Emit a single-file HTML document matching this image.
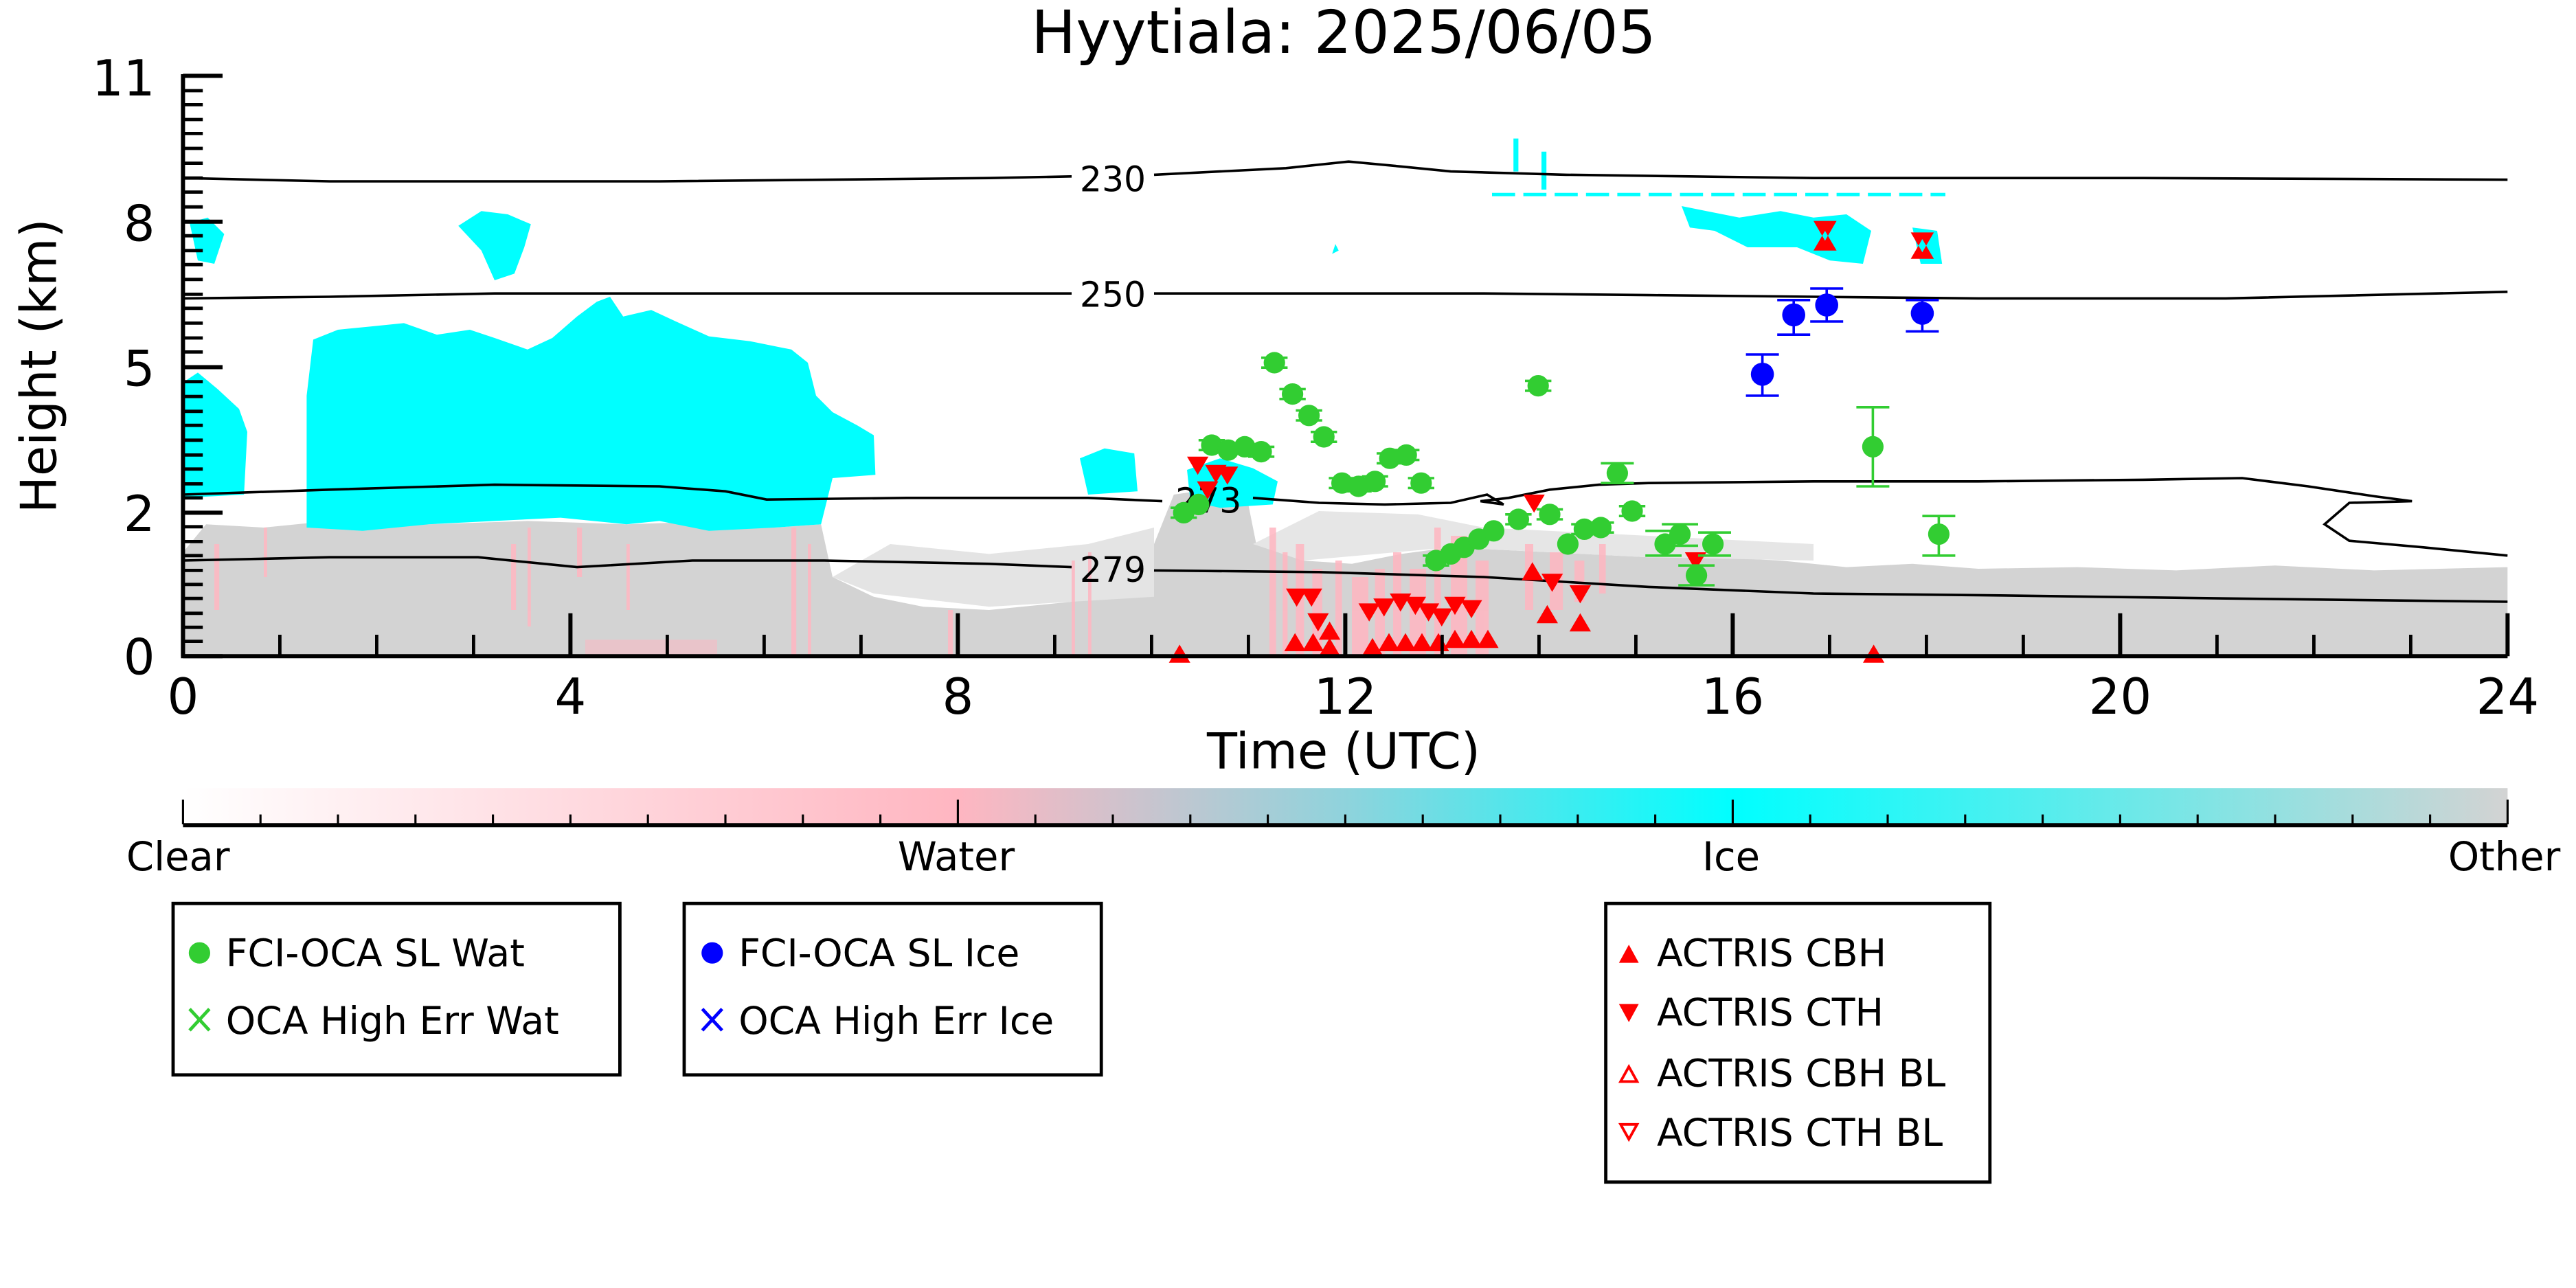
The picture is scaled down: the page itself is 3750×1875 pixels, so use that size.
<!DOCTYPE html>
<html><head><meta charset="utf-8"><style>
html,body{margin:0;padding:0;background:#fff}
svg{display:block}
text{font-family:"DejaVu Sans","Liberation Sans",sans-serif;fill:#000}
</style></head><body>
<svg xmlns="http://www.w3.org/2000/svg" width="3750" height="1875" viewBox="0 0 1562.5 781.25">
<defs>
<linearGradient id="cb" x1="0" x2="1" y1="0" y2="0">
<stop offset="0" stop-color="#ffffff"/>
<stop offset="0.333" stop-color="#ffb6c1"/>
<stop offset="0.5" stop-color="#8fd3dc"/>
<stop offset="0.667" stop-color="#00ffff"/>
<stop offset="1" stop-color="#d3d3d3"/>
</linearGradient>
<clipPath id="pa"><rect x="111" y="46" width="1410" height="352"/></clipPath>
</defs>
<rect width="1562.5" height="781.25" fill="#fff"/>
<text x="815" y="32" font-size="36" text-anchor="middle">Hyytiala: 2025/06/05</text>

<g clip-path="url(#pa)">
<path fill="#d3d3d3" d="M111,398 L111,335 L125,318 L160,320 L200,316 L260,318 L320,316 L380,318 L440,316 L470,320 L498,318 L505,350 L530,362 L560,368 L600,370 L640,366 L680,362 L700,330 L712,300 L740,296 L756,300 L762,330 L790,340 L820,342 L850,336 L880,332 L920,334 L960,336 L1000,338 L1040,338 L1080,340 L1120,344 L1160,342 L1200,345 L1260,344 L1320,346 L1380,343 L1440,346 L1521,344 L1521,398 Z"/>
<path fill="#e4e4e4" d="M505,350 L540,330 L600,336 L660,330 L700,320 L700,362 L600,368 L530,360 Z"/>
<path fill="#e6e6e6" d="M760,330 L800,310 L860,312 L900,320 L1000,325 L1100,330 L1100,340 L1000,338 L880,332 L790,340 Z"/>
<g fill="#ffb6c1" opacity="0.85">
<rect x="770" y="320" width="4" height="78"/><rect x="778" y="335" width="3" height="63"/>
<rect x="786" y="330" width="5" height="68"/><rect x="796" y="345" width="6" height="53"/>
<rect x="810" y="340" width="4" height="58"/><rect x="820" y="350" width="10" height="48"/>
<rect x="834" y="345" width="6" height="53"/><rect x="845" y="335" width="5" height="63"/>
<rect x="855" y="345" width="10" height="53"/><rect x="870" y="320" width="4" height="78"/>
<rect x="880" y="325" width="10" height="73"/><rect x="895" y="340" width="8" height="58"/>
<rect x="925" y="330" width="5" height="40"/><rect x="940" y="335" width="8" height="35"/>
<rect x="955" y="340" width="6" height="25"/><rect x="970" y="330" width="4" height="30"/>
<rect x="650" y="340" width="2" height="58"/><rect x="660" y="335" width="2" height="63"/>
<rect x="575" y="370" width="3" height="28"/>
<rect x="310" y="330" width="3" height="40"/><rect x="320" y="320" width="2" height="60"/>
<rect x="350" y="320" width="3" height="30"/><rect x="380" y="330" width="2" height="40"/>
<rect x="130" y="330" width="3" height="40"/><rect x="160" y="320" width="2" height="30"/>
<rect x="230" y="240" width="3" height="30"/><rect x="250" y="260" width="2" height="30"/>
<rect x="480" y="320" width="3" height="78"/><rect x="490" y="330" width="2" height="68"/>
</g>
<rect x="355" y="388" width="80" height="10" fill="#ffb6c1" opacity="0.5"/>
<g fill="#00ffff">
<path d="M186,320 L186,240 L190,206 L205,200 L225,198 L245,196 L265,203 L285,200 L300,205 L320,212 L335,205 L350,192 L362,183 L370,180 L378,192 L395,188 L410,195 L430,204 L455,207 L480,212 L490,220 L495,240 L505,250 L520,258 L530,264 L531,288 L505,290 L498,318 L470,320 L430,322 L400,316 L380,318 L340,314 L300,316 L260,318 L220,322 Z"/>
<path d="M111,232 L120,226 L132,236 L145,248 L150,262 L148,300 L111,302 Z"/>
<path d="M278,137 L292,128 L308,130 L322,136 L318,150 L312,166 L300,170 L292,152 Z"/>
<path d="M115,135 L126,132 L136,142 L130,160 L120,158 Z"/>
<path d="M655,278 L670,272 L688,275 L690,298 L660,300 Z"/>
<path d="M720,285 L740,278 L760,284 L775,292 L772,306 L740,308 L722,304 Z"/>
<path d="M810,148 L812,152 L808,154 Z"/>
<path d="M1020,125 L1035,128 L1055,132 L1080,128 L1100,132 L1120,130 L1135,140 L1130,160 L1110,158 L1090,150 L1060,150 L1040,140 L1025,138 Z"/>
<path d="M1160,138 L1175,140 L1178,160 L1165,160 Z"/>
<path d="M918,84 L921,84 L921,104 L918,104 Z"/>
<path d="M935,92 L938,92 L938,115 L935,115 Z"/>
</g>
<path d="M905,118 L1180,118" stroke="#00ffff" stroke-width="2" stroke-dasharray="14,5"/>
<g fill="none" stroke="#000" stroke-width="1.5">
<path d="M111,108 L200,110 L400,110 L600,108 L650,107 M700,106 L740,104 L780,102 L818,98 L850,101 L880,104 L950,106 L1100,108 L1300,108 L1521,109"/>
<path d="M111,181 L200,180 L300,178 L500,178 L650,178 M700,178 L900,178 L1000,179 L1100,180 L1200,181 L1350,181 L1521,177"/>
<path d="M111,300 L200,297 L300,294 L400,295 L440,298 L465,303 L550,302 L610,302 L660,302 L705,304 M760,302 L800,305 L840,306 L880,305 L902,300 L912,306 L898,304 L915,302 L940,297 L970,294 L1000,293 L1100,292 L1200,292 L1300,291 L1360,290 L1400,295 L1440,301 L1463,304 L1425,305 L1410,318 L1425,328 L1470,332 L1521,337"/>
<path d="M111,340 L200,338 L290,338 L350,344 L420,340 L500,340 L600,342 L650,344 M700,346 L800,347 L900,350 L1000,356 L1100,360 L1200,361 L1350,363 L1521,365"/>
</g>
</g>
<g font-size="21" text-anchor="middle">
<text x="675" y="116">230</text>
<text x="675" y="186">250</text>
<text x="675" y="353">279</text>
<text x="733" y="311">273</text>
</g>

<g fill="#ff0000">
<path d="M1100,134 h14 l-7,12z M1100,152 h14 l-7,-12z"/>
<path d="M1159,141 h14 l-7,12z M1159,157 h14 l-7,-12z"/>
<path d="M720,277 h13 l-6.5,11z M731,282 h13 l-6.5,11z M738,283 h13 l-6.5,11z M726,292 h13 l-6.5,11z"/>
<path d="M780,357 h13 l-6.5,11z M789,357 h13 l-6.5,11z M793,372 h13 l-6.5,11z M824,366 h13 l-6.5,11z M833,363 h13 l-6.5,11z M843,360 h13 l-6.5,11z M852,362 h13 l-6.5,11z M860,366 h13 l-6.5,11z M868,369 h13 l-6.5,11z M876,362 h13 l-6.5,11z M886,364 h13 l-6.5,11z M924,300 h13 l-6.5,11z M935,348 h13 l-6.5,11z M952,355 h13 l-6.5,11z M1022,335 h13 l-6.5,11z"/>
<path d="M779,395 h13 l-6.5,-11z M790,395 h13 l-6.5,-11z M800,398 h13 l-6.5,-11z M826,398 h13 l-6.5,-11z M836,395 h13 l-6.5,-11z M846,395 h13 l-6.5,-11z M856,395 h13 l-6.5,-11z M866,395 h13 l-6.5,-11z M876,393 h13 l-6.5,-11z M886,393 h13 l-6.5,-11z M896,393 h13 l-6.5,-11z M923,352 h13 l-6.5,-11z M932,378 h13 l-6.5,-11z M952,383 h13 l-6.5,-11z M709,402 h13 l-6.5,-11z M1130,402 h13 l-6.5,-11z M800,388 h13 l-6.5,-11z"/>
</g>

<g stroke="#32cd32" stroke-width="1.5" fill="none">
<path d="M765,217h16M765,223h16 M776,236h16M776,242h16 M786,249h16M786,255h16 M795,262h16M795,268h16 M806,290h16M806,296h16 M816,292h16M816,298h16 M826,289h16M826,295h16 M835,275h16M835,281h16 M845,273h16M845,279h16 M854,290h16M854,296h16 M925,231h16M925,237h16 M727,267h16M727,273h16 M757,271h16M757,277h16 M863,337h16M863,343h16 M913,312h16M913,318h16 M932,309h16M932,315h16 M953,318h16M953,324h16 M963,317h16M963,323h16 M982,307h16M982,313h16 M710,308h16M710,314h16"/>
<path d="M971,281h20M971,293h20 M998,322h22M998,337h22 M1008,318h22M1008,331h22 M1018,343h22M1018,355h22 M1030,323h20M1030,337h20"/>
<path d="M1126,247h20M1136,247v48M1126,295h20 M1166,313h20M1176,313v24M1166,337h20"/>
</g>
<g fill="#32cd32">
<circle cx="773" cy="220" r="6.5"/><circle cx="784" cy="239" r="6.5"/><circle cx="794" cy="252" r="6.5"/><circle cx="803" cy="265" r="6.5"/>
<circle cx="735" cy="270" r="6.5"/><circle cx="745" cy="273" r="6.5"/><circle cx="755" cy="271" r="6.5"/><circle cx="765" cy="274" r="6.5"/>
<circle cx="814" cy="293" r="6.5"/><circle cx="824" cy="295" r="6.5"/><circle cx="834" cy="292" r="6.5"/><circle cx="843" cy="278" r="6.5"/><circle cx="853" cy="276" r="6.5"/><circle cx="862" cy="293" r="6.5"/>
<circle cx="933" cy="234" r="6.5"/><circle cx="718" cy="311" r="6.5"/><circle cx="727" cy="306" r="6.5"/>
<circle cx="871" cy="340" r="6.5"/><circle cx="880" cy="336" r="6.5"/><circle cx="888" cy="332" r="6.5"/><circle cx="897" cy="327" r="6.5"/><circle cx="906" cy="322" r="6.5"/>
<circle cx="921" cy="315" r="6.5"/><circle cx="940" cy="312" r="6.5"/><circle cx="951" cy="330" r="6.5"/><circle cx="961" cy="321" r="6.5"/><circle cx="971" cy="320" r="6.5"/>
<circle cx="981" cy="287" r="6.5"/><circle cx="990" cy="310" r="6.5"/><circle cx="1010" cy="330" r="6.5"/><circle cx="1019" cy="324" r="6.5"/><circle cx="1029" cy="349" r="6.5"/><circle cx="1039" cy="330" r="6.5"/>
<circle cx="1136" cy="271" r="6.5"/><circle cx="1176" cy="324" r="6.5"/>
</g>
<g stroke="#0000ff" stroke-width="1.5" fill="none">
<path d="M1059,215h20M1069,215v25M1059,240h20 M1078,182h20M1088,182v21M1078,203h20 M1098,175h20M1108,175v20M1098,195h20 M1156,182h20M1166,182v19M1156,201h20"/>
</g>
<g fill="#0000ff">
<circle cx="1069" cy="227" r="7"/><circle cx="1088" cy="191" r="7"/><circle cx="1108" cy="185" r="7"/><circle cx="1166" cy="190" r="7"/>
</g>

<g stroke="#000" stroke-width="2.5" fill="none">
<path d="M111,45 V398 H1521"/>
<path d="M111,46h24 M111,134.5h24 M111,222.7h24 M111,311h24 M111,398h24"/>
<path stroke-width="2" d="M111,55h12M111,63.5h12M111,72.5h12M111,81h12M111,90h12M111,99h12M111,108h12M111,116.5h12M111,125.5h12M111,143h12M111,152h12M111,160.5h12M111,169.5h12M111,178.5h12M111,187h12M111,196h12M111,205h12M111,213.5h12M111,231.5h12M111,240.5h12M111,249.5h12M111,258h12M111,267h12M111,276h12M111,284.5h12M111,293.5h12M111,302h12M111,319.5h12M111,328.5h12M111,337h12M111,346h12M111,354.5h12M111,363h12M111,372h12M111,380.5h12M111,389h12"/>
<path d="M111,398v-26M346,398v-26M581,398v-26M816,398v-26M1051,398v-26M1286,398v-26M1521,398v-26"/>
<path stroke-width="2" d="M169.75,398v-13M228.5,398v-13M287.25,398v-13M404.75,398v-13M463.5,398v-13M522.25,398v-13M639.75,398v-13M698.5,398v-13M757.25,398v-13M874.75,398v-13M933.5,398v-13M992.25,398v-13M1109.75,398v-13M1168.5,398v-13M1227.25,398v-13M1344.75,398v-13M1403.5,398v-13M1462.25,398v-13"/>
</g>
<g font-size="30" text-anchor="end">
<text x="94" y="58">11</text><text x="94" y="146">8</text><text x="94" y="234">5</text><text x="94" y="322">2</text><text x="94" y="409">0</text>
</g>
<g font-size="30" text-anchor="middle">
<text x="111" y="433">0</text><text x="346" y="433">4</text><text x="581" y="433">8</text><text x="816" y="433">12</text><text x="1051" y="433">16</text><text x="1286" y="433">20</text><text x="1521" y="433">24</text>
<text x="815" y="466">Time (UTC)</text>
<text transform="translate(34,222) rotate(-90)">Height (km)</text>
</g>

<rect x="111" y="478" width="1410" height="22" fill="url(#cb)"/>
<path d="M111,500.5H1521" stroke="#000" stroke-width="2.5"/>
<g stroke="#000" stroke-width="1.3">
<path d="M111,500v-15M581,500v-15M1051,500v-15M1521,500v-15"/>
<path d="M158,500v-6M205,500v-6M252,500v-6M299,500v-6M346,500v-6M393,500v-6M440,500v-6M487,500v-6M534,500v-6M628,500v-6M675,500v-6M722,500v-6M769,500v-6M816,500v-6M863,500v-6M910,500v-6M957,500v-6M1004,500v-6M1098,500v-6M1145,500v-6M1192,500v-6M1239,500v-6M1286,500v-6M1333,500v-6M1380,500v-6M1427,500v-6M1474,500v-6"/>
</g>
<g font-size="24" text-anchor="middle">
<text x="108" y="528">Clear</text><text x="580" y="528">Water</text><text x="1050" y="528">Ice</text><text x="1519" y="528">Other</text>
</g>

<g fill="none" stroke="#000" stroke-width="2">
<rect x="105" y="548" width="271" height="104"/>
<rect x="415" y="548" width="253" height="104"/>
<rect x="974" y="548" width="233" height="169"/>
</g>
<g font-size="23">
<circle cx="121" cy="578" r="6.5" fill="#32cd32"/>
<text x="137" y="586">FCI-OCA SL Wat</text>
<path d="M115,612l12,13M127,612l-12,13" stroke="#32cd32" stroke-width="2"/>
<text x="137" y="627">OCA High Err Wat</text>
<circle cx="432" cy="578" r="6.5" fill="#0000ff"/>
<text x="448" y="586">FCI-OCA SL Ice</text>
<path d="M426,612l12,13M438,612l-12,13" stroke="#0000ff" stroke-width="2"/>
<text x="448" y="627">OCA High Err Ice</text>
<path d="M982,584h12l-6,-11z" fill="#ff0000"/>
<text x="1005" y="586">ACTRIS CBH</text>
<path d="M982,609h12l-6,11z" fill="#ff0000"/>
<text x="1005" y="622">ACTRIS CTH</text>
<path d="M983,656h10l-5,-9z" fill="none" stroke="#ff0000" stroke-width="1.6"/>
<text x="1005" y="659">ACTRIS CBH BL</text>
<path d="M983,682h10l-5,9z" fill="none" stroke="#ff0000" stroke-width="1.6"/>
<text x="1005" y="695">ACTRIS CTH BL</text>
</g>
</svg>
</body></html>
